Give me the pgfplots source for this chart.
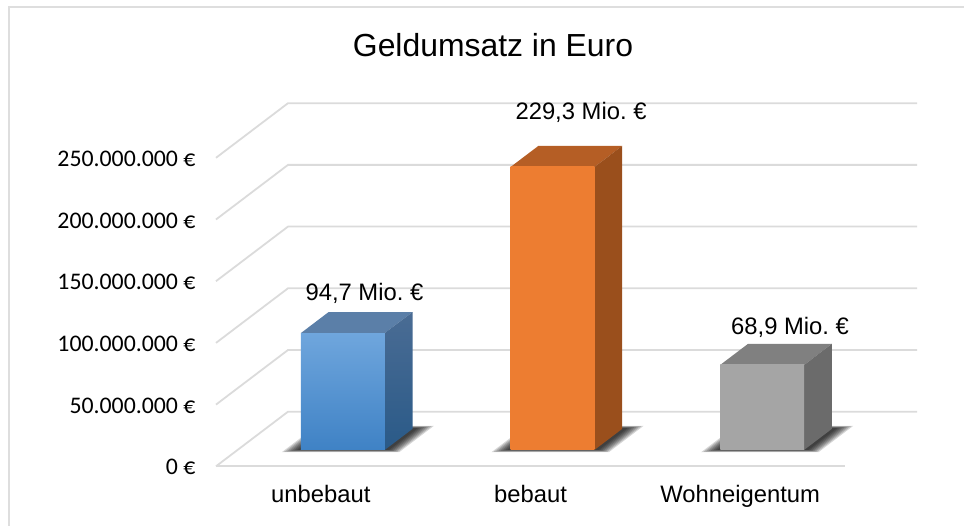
\documentclass[border=0pt]{standalone}
\usepackage{pgfplots}
\usepackage{pgfplotstable}
\pgfplotsset{compat=1.18}
\usepackage{fontspec}
\setmainfont{Liberation Sans}
\newfontfamily\tickfont{Carlito}

\definecolor{gridgrey}{HTML}{DBDBDB}
\definecolor{framegrey}{HTML}{DEDEDE}

% unit square for the soft floor shadows
\pgfplotstableread{
u v w
-1 -1 0
1 -1 0
1 1 0
-1 1 0
}\unitsquare

% #1 bar centre, #2 half width, #3 half depth
\newcommand\shadowlayer[3]{%
  \addplot3[draw=none,fill=black,fill opacity=0.16,mark=none,forget plot]
    table[x expr=#1+\thisrow{u}*#2,y expr=0.5+\thisrow{v}*#3,z=w]{\unitsquare};
}
\newcommand\barshadow[1]{%
  \shadowlayer{#1}{0.280}{0.240}
  \shadowlayer{#1}{0.271}{0.234}
  \shadowlayer{#1}{0.262}{0.228}
  \shadowlayer{#1}{0.253}{0.222}
  \shadowlayer{#1}{0.244}{0.216}
  \shadowlayer{#1}{0.235}{0.210}
  \shadowlayer{#1}{0.226}{0.205}
  \shadowlayer{#1}{0.217}{0.200}
}
% #1 left, #2 right, #3 value, #4/#5 front top/bottom, #6 top face, #7/#8 side top/bottom
\newcommand\threedbar[8]{%
  \addplot3[draw=none,fill=#6,mark=none,forget plot] coordinates {(#1,0.3,#3) (#2,0.3,#3) (#2,0.685,#3) (#1,0.685,#3)};
  \addplot3[draw=none,top color=#7,bottom color=#8,mark=none,forget plot] coordinates {(#2,0.3,0) (#2,0.685,0) (#2,0.685,#3) (#2,0.3,#3)};
  \addplot3[draw=none,top color=#4,bottom color=#5,mark=none,forget plot] coordinates {(#1,0.3,0) (#2,0.3,0) (#2,0.3,#3) (#1,0.3,#3)};
}
\newcommand\gridlevel[1]{%
  \addplot3[gridgrey,line width=1.8pt,mark=none,forget plot] coordinates {(0,0,#1) (0,1,#1) (3,1,#1)};
}
\definecolor{bluefronttop}{HTML}{6FA6DD}
\definecolor{bluefrontbot}{HTML}{3F82C5}
\definecolor{bluetop}{HTML}{5B7FA8}
\definecolor{bluesidetop}{HTML}{4A6C94}
\definecolor{bluesidebot}{HTML}{2A5A88}
\definecolor{orangefront}{HTML}{ED7D31}
\definecolor{orangetop}{HTML}{B55E25}
\definecolor{orangeside}{HTML}{9A4F1C}
\definecolor{greyfront}{HTML}{A5A5A5}
\definecolor{greytop}{HTML}{808080}
\definecolor{greyside}{HTML}{6B6B6B}

\begin{document}
\frenchspacing
\begin{tikzpicture}
  % 1 px of the reference = 1 pt, origin at the front left corner of the floor
  \begin{axis}[
    at={(0pt,0pt)}, anchor=origin,
    x={(209.67pt,0pt)}, y={(72pt,54.6pt)}, z={(0pt,1.234pt)},
    xmin=0, xmax=3, ymin=0, ymax=1, zmin=0, zmax=250,
    clip=false,
    axis line style={draw=none},
    tick style={draw=none},
    grid=none,
    xtick={0.5,1.5,2.5},
    xticklabels={unbebaut,bebaut,Wohneigentum},
    ytick=\empty,
    ztick={0,50,100,150,200,250},
    zticklabels={0 €,50.000.000 €,100.000.000 €,150.000.000 €,200.000.000 €,250.000.000 €},
    x tick label style={font=\fontsize{23.8pt}{26pt}\selectfont,anchor=base,yshift=-36pt},
    z tick label style={font=\fontsize{23.8pt}{26pt}\selectfont\tickfont,anchor=east,xshift=-17pt,yshift=-1pt},
  ]
    \gridlevel{50}
    \gridlevel{100}
    \gridlevel{150}
    \gridlevel{200}
    \gridlevel{250}
    \gridlevel{0}
    \addplot3[gridgrey,line width=1.8pt,mark=none,forget plot] coordinates {(0,0,0) (3,0,0)};

    \barshadow{0.505}
    \barshadow{1.505}
    \barshadow{2.505}

    % values in Mio. Euro
    \threedbar{0.302}{0.702}{94.7}{bluefronttop}{bluefrontbot}{bluetop}{bluesidetop}{bluesidebot}
    \threedbar{1.302}{1.702}{229.3}{orangefront}{orangefront}{orangetop}{orangeside}{orangeside}
    \threedbar{2.302}{2.702}{68.9}{greyfront}{greyfront}{greytop}{greyside}{greyside}

    \node[font=\fontsize{23.8pt}{26pt}\selectfont] at (axis cs:0.708,0,140.4) {94,7 Mio. €};
    \node[font=\fontsize{23.8pt}{26pt}\selectfont] at (axis cs:1.741,0,287) {229,3 Mio. €};
    \node[font=\fontsize{23.8pt}{26pt}\selectfont] at (axis cs:2.738,0,112.9) {68,9 Mio. €};
  \end{axis}
  \node[font=\fontsize{31.9pt}{34pt}\selectfont,anchor=base] at (277pt,409.6pt) {Geldumsatz in Euro};
  \draw[framegrey,line width=2pt] (-207pt,-60pt) -- (-207pt,459.3pt) -- (750pt,459.3pt);
  \pgfresetboundingbox
  \path[use as bounding box] (-216pt,-58.7pt) rectangle (748pt,466.3pt);
\end{tikzpicture}
\end{document}
